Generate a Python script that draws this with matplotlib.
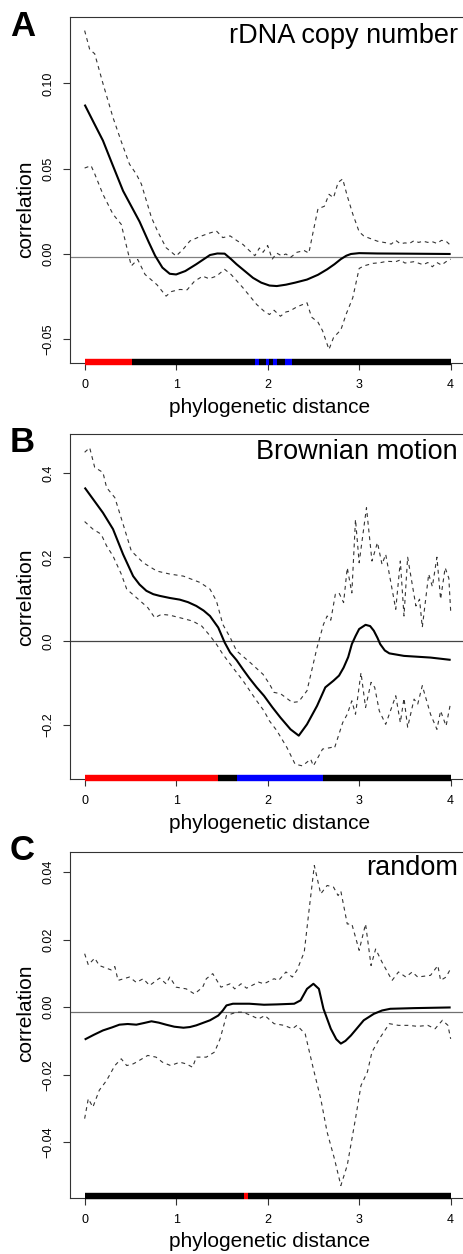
import matplotlib
matplotlib.use("Agg")
import matplotlib.pyplot as plt

plt.rcParams['font.family'] = ['Liberation Sans', 'DejaVu Sans']

# ---------------- Panel A : rDNA copy number ----------------
xa_m = [0, 0.1, 0.2, 0.3, 0.42, 0.5, 0.6, 0.7, 0.77, 0.85, 0.93, 1.0, 1.1, 1.22, 1.37, 1.45,
        1.53, 1.6, 1.66, 1.75, 1.84, 1.93, 2.02, 2.1, 2.2, 2.3, 2.43, 2.55, 2.65, 2.73, 2.8,
        2.86, 2.91, 3.0, 3.2, 3.5, 4.0]
ya_m = [0.0876, 0.077, 0.0665, 0.053, 0.037, 0.029, 0.019, 0.007, -0.001, -0.008, -0.0116,
        -0.012, -0.010, -0.006, -0.0006, 0.0003, 0.0002, -0.003, -0.006, -0.010, -0.014,
        -0.0168, -0.0185, -0.0188, -0.018, -0.0168, -0.015, -0.0122, -0.009, -0.006, -0.003,
        -0.001, 0.0, 0.0005, 0.0003, 0.0002, 0.0]
xa_u = [0, 0.055, 0.11, 0.2, 0.31, 0.4, 0.49, 0.565, 0.62, 0.73, 0.8, 0.89, 1.0, 1.08, 1.15,
        1.25, 1.35, 1.44, 1.51, 1.59, 1.66, 1.73, 1.8, 1.86, 1.91, 1.95, 2.0, 2.05, 2.1, 2.15,
        2.2, 2.25, 2.32, 2.4, 2.45, 2.5, 2.55, 2.62, 2.67, 2.72, 2.77, 2.82, 2.87, 2.93, 3.0,
        3.05, 3.1, 3.2, 3.3, 3.35, 3.4, 3.45, 3.5, 3.55, 3.6, 3.65, 3.7, 3.75, 3.8, 3.85, 3.9,
        3.95, 4.0]
ya_u = [0.131, 0.120, 0.1174, 0.100, 0.080, 0.066, 0.0527, 0.0468, 0.041, 0.0214, 0.013,
        0.0037, -0.0012, 0.003, 0.0076, 0.010, 0.012, 0.0135, 0.0096, 0.0106, 0.008, 0.0056,
        0.002, -0.001, 0.0035, 0.001, 0.005, -0.003, 0.0005, -0.001, 0.0, -0.002, 0.001,
        0.002, 0.0005, 0.0137, 0.0265, 0.028, 0.035, 0.033, 0.042, 0.044, 0.034, 0.0235,
        0.013, 0.0106, 0.0095, 0.0075, 0.0065, 0.0058, 0.008, 0.006, 0.0065, 0.0062, 0.0078,
        0.0068, 0.0075, 0.0068, 0.0072, 0.0062, 0.008, 0.0075, 0.005]
xa_l = [0, 0.07, 0.11, 0.2, 0.31, 0.4, 0.47, 0.51, 0.58, 0.66, 0.79, 0.89, 0.95, 1.04, 1.12,
        1.2, 1.29, 1.36, 1.44, 1.53, 1.6, 1.73, 1.88, 1.96, 2.02, 2.07, 2.14, 2.2, 2.24, 2.32,
        2.43, 2.48, 2.55, 2.6, 2.67, 2.72, 2.8, 2.86, 2.93, 3.0, 3.05, 3.15, 3.23, 3.3, 3.4,
        3.45, 3.5, 3.6, 3.7, 3.75, 3.8, 3.85, 3.9, 3.95, 4.0]
ya_l = [0.0504, 0.0518, 0.047, 0.035, 0.0233, 0.0174, 0.0018, -0.007, -0.0032, -0.012,
        -0.018, -0.0247, -0.022, -0.0208, -0.021, -0.016, -0.013, -0.0145, -0.013, -0.009,
        -0.012, -0.0198, -0.0296, -0.0335, -0.0355, -0.033, -0.0365, -0.034, -0.0335, -0.031,
        -0.0286, -0.037, -0.040, -0.045, -0.056, -0.049, -0.0445, -0.035, -0.0257, -0.0085,
        -0.007, -0.0055, -0.0051, -0.0043, -0.0045, -0.0035, -0.0053, -0.0045, -0.0063,
        -0.005, -0.0075, -0.005, -0.0065, -0.0045, -0.003]
bar_a_edges = [0, 0.52, 1.86, 1.91, 1.98, 2.02, 2.06, 2.10, 2.19, 2.27, 4.0]
bar_a_class = ['pos', 'ns', 'neg', 'ns', 'neg', 'ns', 'neg', 'ns', 'neg', 'ns']
ref_a = -0.0016
yticks_a = [-0.05, 0.0, 0.05, 0.10]
yticklabels_a = ['\u22120.05', '0.00', '0.05', '0.10']

# ---------------- Panel B : Brownian motion ----------------
xb_m = [0, 0.1, 0.2, 0.31, 0.42, 0.53, 0.6, 0.675, 0.75, 0.82, 0.93, 1.04, 1.13, 1.22, 1.3,
        1.37, 1.46, 1.53, 1.59, 1.66, 1.73, 1.8, 1.88, 1.96, 2.05, 2.14, 2.25, 2.34, 2.43,
        2.54, 2.63, 2.72, 2.78, 2.83, 2.88, 2.92, 2.96, 3.0, 3.07, 3.12, 3.16, 3.2, 3.23,
        3.28, 3.33, 3.49, 3.78, 4.0]
yb_m = [0.366, 0.336, 0.306, 0.267, 0.207, 0.155, 0.135, 0.12, 0.112, 0.108, 0.103, 0.099,
        0.093, 0.084, 0.073, 0.06, 0.0326, -0.003, -0.027, -0.045, -0.067, -0.088, -0.110,
        -0.130, -0.157, -0.182, -0.210, -0.225, -0.198, -0.154, -0.110, -0.094, -0.082,
        -0.063, -0.038, -0.007, 0.012, 0.029, 0.039, 0.036, 0.025, 0.008, -0.007, -0.022,
        -0.029, -0.035, -0.039, -0.0445]
xb_u = [0, 0.055, 0.11, 0.2, 0.24, 0.33, 0.42, 0.51, 0.64, 0.79, 0.93, 1.08, 1.26, 1.37,
        1.44, 1.51, 1.59, 1.66, 1.81, 1.95, 2.02, 2.07, 2.14, 2.27, 2.34, 2.43, 2.54, 2.61,
        2.65, 2.69, 2.74, 2.78, 2.83, 2.87, 2.92, 2.96, 3.0, 3.08, 3.14, 3.2, 3.25, 3.29,
        3.4, 3.45, 3.49, 3.53, 3.62, 3.66, 3.69, 3.76, 3.8, 3.85, 3.89, 3.94, 3.98, 4.0]
yb_u = [0.45, 0.461, 0.414, 0.402, 0.366, 0.342, 0.279, 0.215, 0.187, 0.167, 0.16, 0.155,
        0.14, 0.124, 0.096, 0.040, 0.009, -0.023, -0.051, -0.079, -0.102, -0.122, -0.125,
        -0.146, -0.144, -0.118, -0.015, 0.040, 0.060, 0.05, 0.112, 0.115, 0.092, 0.175,
        0.115, 0.29, 0.187, 0.318, 0.191, 0.235, 0.183, 0.207, 0.076, 0.191, 0.06, 0.2,
        0.084, 0.1, 0.033, 0.16, 0.13, 0.2, 0.1, 0.175, 0.15, 0.072]
xb_l = [0, 0.09, 0.18, 0.24, 0.31, 0.4, 0.46, 0.565, 0.69, 0.766, 0.84, 0.93, 1.04, 1.18,
        1.28, 1.37, 1.44, 1.51, 1.62, 1.73, 1.88, 1.96, 2.02, 2.1, 2.21, 2.3, 2.38, 2.47,
        2.5, 2.6, 2.7, 2.73, 2.82, 2.87, 2.92, 2.96, 3.02, 3.07, 3.13, 3.17, 3.22, 3.29,
        3.4, 3.45, 3.49, 3.53, 3.6, 3.64, 3.69, 3.78, 3.85, 3.89, 3.95, 4.0]
yb_l = [0.285, 0.267, 0.255, 0.227, 0.203, 0.16, 0.124, 0.104, 0.080, 0.056, 0.064, 0.062,
        0.056, 0.048, 0.036, 0.013, -0.007, -0.031, -0.063, -0.094, -0.142, -0.166, -0.19,
        -0.213, -0.253, -0.293, -0.297, -0.281, -0.297, -0.257, -0.253, -0.255, -0.194,
        -0.174, -0.142, -0.174, -0.075, -0.158, -0.098, -0.11, -0.166, -0.198, -0.130,
        -0.194, -0.136, -0.205, -0.138, -0.15, -0.106, -0.174, -0.21, -0.166, -0.202, -0.146]
bar_b_edges = [0, 1.46, 1.67, 2.6, 4.0]
bar_b_class = ['pos', 'ns', 'neg', 'ns']
ref_b = 0.0
yticks_b = [-0.2, 0.0, 0.2, 0.4]
yticklabels_b = ['\u22120.2', '0.0', '0.2', '0.4']

# ---------------- Panel C : random ----------------
xc_m = [0, 0.1, 0.2, 0.3, 0.38, 0.47, 0.565, 0.65, 0.73, 0.81, 0.89, 0.98, 1.08, 1.15, 1.22,
        1.3, 1.37, 1.46, 1.51, 1.55, 1.62, 1.8, 1.96, 2.1, 2.29, 2.36, 2.43, 2.5, 2.56, 2.61,
        2.69, 2.75, 2.8, 2.85, 2.91, 3.05, 3.16, 3.25, 3.34, 3.6, 4.0]
yc_m = [-0.0096, -0.0082, -0.0069, -0.006, -0.0052, -0.005, -0.0052, -0.0047, -0.0042,
        -0.0046, -0.0052, -0.0058, -0.0061, -0.0059, -0.0054, -0.0046, -0.0039, -0.0025,
        -0.001, 0.0005, 0.001, 0.001, 0.0007, 0.0008, 0.001, 0.002, 0.0054, 0.0069, 0.0054,
        -0.0005, -0.0064, -0.0095, -0.0108, -0.0100, -0.0084, -0.0039, -0.002, -0.001,
        -0.0005, -0.0003, -0.0001]
xc_u = [0, 0.04, 0.11, 0.16, 0.24, 0.29, 0.33, 0.365, 0.49, 0.565, 0.64, 0.71, 0.82, 0.89,
        0.93, 1.0, 1.11, 1.2, 1.29, 1.33, 1.4, 1.49, 1.59, 1.64, 1.71, 1.77, 1.9, 1.96, 2.07,
        2.12, 2.2, 2.27, 2.32, 2.4, 2.45, 2.51, 2.58, 2.65, 2.72, 2.77, 2.8, 2.87, 2.92, 3.0,
        3.07, 3.13, 3.18, 3.25, 3.36, 3.43, 3.51, 3.58, 3.64, 3.78, 3.86, 3.89, 3.95, 4.0]
yc_u = [0.0158, 0.0125, 0.0145, 0.0123, 0.0115, 0.011, 0.012, 0.0079, 0.0089, 0.0073,
        0.0084, 0.0064, 0.0086, 0.0069, 0.0089, 0.0059, 0.0054, 0.0039, 0.0059, 0.0084,
        0.0099, 0.0059, 0.0069, 0.0054, 0.0069, 0.0056, 0.0074, 0.0069, 0.0084, 0.0079,
        0.0104, 0.0089, 0.0109, 0.0163, 0.0281, 0.0419, 0.0335, 0.036, 0.0355, 0.033,
        0.0343, 0.0246, 0.0246, 0.0168, 0.0246, 0.0123, 0.0172, 0.0133, 0.0079, 0.0104,
        0.0089, 0.0104, 0.0089, 0.0094, 0.0123, 0.0079, 0.0089, 0.0114]
xc_l = [0, 0.04, 0.09, 0.16, 0.24, 0.33, 0.40, 0.46, 0.53, 0.565, 0.69, 0.78, 0.85, 0.94,
        1.04, 1.11, 1.18, 1.22, 1.33, 1.42, 1.48, 1.55, 1.66, 1.73, 1.82, 1.9, 1.97, 2.07,
        2.18, 2.27, 2.32, 2.41, 2.5, 2.58, 2.65, 2.73, 2.8, 2.87, 2.96, 3.02, 3.09, 3.14,
        3.22, 3.33, 3.43, 3.54, 3.64, 3.75, 3.83, 3.91, 3.97, 4.0]
yc_l = [-0.033, -0.0271, -0.0296, -0.0246, -0.0217, -0.0173, -0.0153, -0.0173, -0.0168,
        -0.0163, -0.0143, -0.0148, -0.0163, -0.0173, -0.0163, -0.0168, -0.0178, -0.0148,
        -0.0148, -0.0133, -0.0094, -0.0025, -0.0015, -0.0015, -0.0025, -0.0035, -0.0025,
        -0.0049, -0.0054, -0.0064, -0.0054, -0.0079, -0.0183, -0.0271, -0.037, -0.0449,
        -0.0528, -0.0468, -0.033, -0.0232, -0.0192, -0.0133, -0.0094, -0.0049, -0.0054,
        -0.0054, -0.0057, -0.0054, -0.0064, -0.0039, -0.0054, -0.0094]
bar_c_edges = [0, 1.74, 1.79, 4.0]
bar_c_class = ['ns', 'pos', 'ns']
ref_c = -0.0015
yticks_c = [-0.04, -0.02, 0.0, 0.02, 0.04]
yticklabels_c = ['\u22120.04', '\u22120.02', '0.00', '0.02', '0.04']

xticks = [0, 1, 2, 3, 4]
xticklabels = ['0', '1', '2', '3', '4']
titles = ['rDNA copy number', 'Brownian motion', 'random']
letters = ['A', 'B', 'C']
class_colors = {'pos': '#ff0000', 'neg': '#0000ff', 'ns': '#000000'}

W, H = 464, 1254
fig = plt.figure(figsize=(W / 100, H / 100), dpi=100)


def fx(px):
    return px / W


def fy(py):
    return 1 - py / H


panels = [
    dict(box=(70, 17.3, 465.3, 363.3), ylim=(-0.0641, 0.1388),
         m=(xa_m, ya_m), u=(xa_u, ya_u), l=(xa_l, ya_l),
         edges=bar_a_edges, cls=bar_a_class, ref=ref_a, refc='#808080',
         yt=yticks_a, ytl=yticklabels_a, ylab_y=209, title_y=43, letter_y=26),
    dict(box=(70, 434, 465.3, 779.3), ylim=(-0.329, 0.4936),
         m=(xb_m, yb_m), u=(xb_u, yb_u), l=(xb_l, yb_l),
         edges=bar_b_edges, cls=bar_b_class, ref=ref_b, refc='#444444',
         yt=yticks_b, ytl=yticklabels_b, ylab_y=597, title_y=459, letter_y=442),
    dict(box=(70, 852, 465.3, 1197.7), ylim=(-0.0564, 0.0459),
         m=(xc_m, yc_m), u=(xc_u, yc_u), l=(xc_l, yc_l),
         edges=bar_c_edges, cls=bar_c_class, ref=ref_c, refc='#707070',
         yt=yticks_c, ytl=yticklabels_c, ylab_y=1013, title_y=875, letter_y=850),
]

for i, p in enumerate(panels):
    x0, y0, x1, y1 = p['box']
    ax = fig.add_axes([fx(x0), fy(y1), (x1 - x0) / W, (y1 - y0) / H])
    ax.set_xlim(-0.16, 4.16)
    ax.set_ylim(*p['ylim'])
    ax.axhline(p['ref'], color=p['refc'], lw=0.9, zorder=1)
    for key in ('u', 'l'):
        xs, ys = p[key]
        ax.plot(xs, ys, color='#333333', lw=0.8, dashes=(3.5, 3.5), zorder=2)
    xs, ys = p['m']
    ax.plot(xs, ys, color='black', lw=1.5, zorder=3, solid_capstyle='butt')
    trans = ax.get_xaxis_transform()
    for k, c in enumerate(p['cls']):
        ax.plot([p['edges'][k], p['edges'][k + 1]], [0.004, 0.004], transform=trans,
                color=class_colors[c], lw=4.6, solid_capstyle='butt', clip_on=False, zorder=4)
    for s in ax.spines.values():
        s.set_color('#333333')
        s.set_linewidth(0.8)
    ax.set_xticks(xticks)
    ax.set_xticklabels(xticklabels)
    ax.set_yticks(p['yt'])
    ax.set_yticklabels(p['ytl'], rotation=90, va='center')
    ax.tick_params(axis='both', direction='out', length=5, width=0.8, color='#333333',
                   labelsize=9)
    ax.tick_params(axis='x', pad=6.5)
    ax.tick_params(axis='y', pad=6)
    fig.text(fx(25.7), fy(p['ylab_y']), 'correlation', rotation=90, ha='center',
             va='center', fontsize=15)
    fig.text(fx(269.7), fy(y1 + 44), 'phylogenetic distance', ha='center', va='center',
             fontsize=15)
    fig.text(fx(458), fy(p['title_y']), titles[i], ha='right', va='baseline',
             fontsize=19.5)
    fig.text(fx(22.5), fy(p['letter_y']), letters[i], ha='center', va='center',
             fontsize=25, fontweight='bold')

fig.savefig('out.png', dpi=100)
